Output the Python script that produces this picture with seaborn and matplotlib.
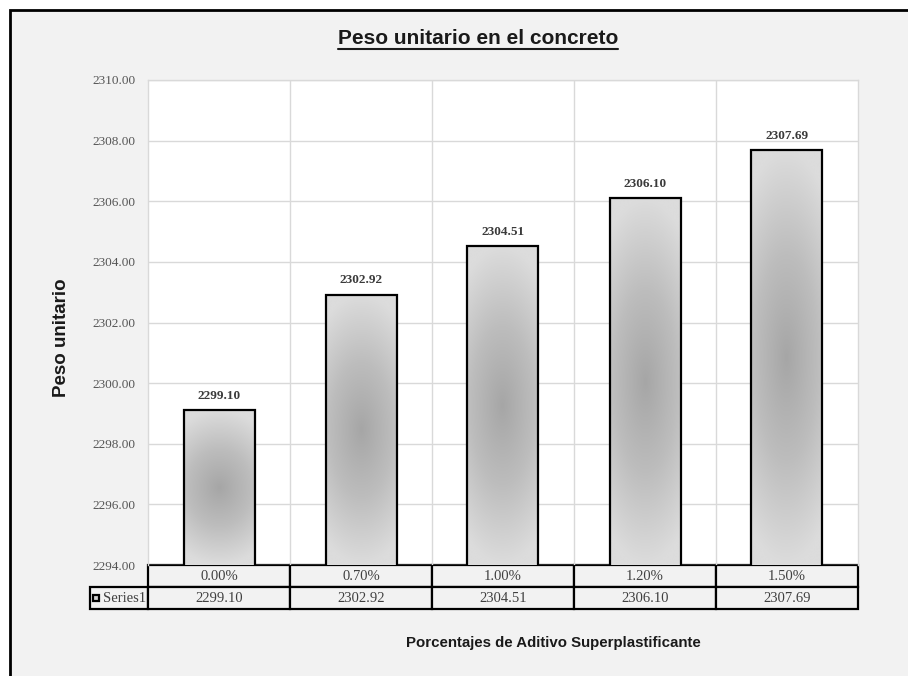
import numpy as np
import pandas as pd
import seaborn as sns
import matplotlib
matplotlib.use("Agg")
import matplotlib.pyplot as plt
from matplotlib.patches import Rectangle
from matplotlib.table import Table
from matplotlib.colors import LinearSegmentedColormap
from matplotlib.lines import Line2D

# ---- data ----
categories = ["0.00%", "0.70%", "1.00%", "1.20%", "1.50%"]
values = [2299.10, 2302.92, 2304.51, 2306.10, 2307.69]
yticks = [2294, 2296, 2298, 2300, 2302, 2304, 2306, 2308, 2310]
series_name = "Series1"
title = "Peso unitario en el concreto"
ylabel = "Peso unitario"
xlabel = "Porcentajes de Aditivo Superplastificante"

sns.set_theme(style="white")
sans = ["Liberation Sans", "DejaVu Sans"]
serif = ["Liberation Serif", "DejaVu Serif"]
plt.rcParams["font.family"] = sans

W, H = 908, 676
fig = plt.figure(figsize=(W / 100, H / 100), dpi=100)
fig.patch.set_facecolor("white")

# outer chart frame
fig.patches.append(Rectangle((10 / W, -0.05), 1.0, 1 - 10 / H + 0.05,
                             transform=fig.transFigure, facecolor="#f2f2f2",
                             edgecolor="black", lw=2, zorder=-10))

ax = fig.add_axes([148 / W, 1 - 565 / H, 710 / W, 485 / H])
ax.set_facecolor("white")

df = pd.DataFrame({"pct": categories, "val": values})
sns.barplot(data=df, x="pct", y="val", width=0.5, color="#d0d0d0",
            edgecolor="black", linewidth=1.6, ax=ax, zorder=3)

ax.set_ylim(yticks[0], yticks[-1])
ax.set_xlim(-0.5, len(categories) - 0.5)
ylo, yhi = ax.get_ylim()
xlo, xhi = ax.get_xlim()

# gradient fill for the bars
cmap = LinearSegmentedColormap.from_list("g", ["#a6a6a6", "#bdbdbd", "#dcdcdc"])
ny, nx = 200, 80
u = np.linspace(-1, 1, nx)
v = np.linspace(-1, 1, ny)
U, V = np.meshgrid(u, v)
D = np.clip(np.sqrt(0.3 * U ** 2 + V ** 2), 0, 1)
for p in ax.patches:
    x0 = p.get_x()
    w = p.get_width()
    top = p.get_y() + p.get_height()
    im = ax.imshow(D, cmap=cmap, vmin=0, vmax=1, extent=[x0, x0 + w, ylo, top],
                   aspect="auto", origin="lower", zorder=2.5, interpolation="bilinear")
    im.set_clip_path(p)
    p.set_facecolor("none")
ax.set_ylim(ylo, yhi)
ax.set_xlim(xlo, xhi)

# value labels
ax.bar_label(ax.containers[0], fmt="%.2f", padding=6, fontsize=9.5,
             fontweight="bold", family=serif, color="#3a3a3a")

# grid
ax.set_yticks(yticks)
ax.set_yticklabels([f"{t:.2f}" for t in yticks])
ax.set_xticks([])
ax.set_xticks([i + 0.5 for i in range(len(categories) - 1)], minor=True)
ax.set_axisbelow(True)
ax.grid(axis="y", which="major", color="#d9d9d9", lw=1)
ax.grid(axis="x", which="minor", color="#d9d9d9", lw=1)
ax.tick_params(axis="y", length=0, pad=9, labelsize=9.5, labelcolor="#555555")
ax.tick_params(axis="x", which="both", length=0)
for lab in ax.get_yticklabels():
    lab.set_fontfamily(serif)
for s in ["left", "top", "right"]:
    ax.spines[s].set_color("#d9d9d9")
    ax.spines[s].set_linewidth(1)
ax.spines["bottom"].set_visible(False)
ax.set_xlabel("")
ax.set_ylabel("")

# data table
lw_px, cw_px, rh_px = 58, 142, 22
tab = Table(ax, bbox=[-lw_px / 710, -2 * rh_px / 485, 1 + lw_px / 710, 2 * rh_px / 485])
for j, c in enumerate(categories):
    tab.add_cell(0, j + 1, width=cw_px, height=rh_px, text=c, loc="center",
                 facecolor="#f2f2f2", edgecolor="black")
cell = tab.add_cell(1, 0, width=lw_px, height=rh_px, text=series_name, loc="right",
                    facecolor="#f2f2f2", edgecolor="black")
cell.PAD = 0.03
for j, val in enumerate(values):
    tab.add_cell(1, j + 1, width=cw_px, height=rh_px, text=f"{val:.2f}", loc="center",
                 facecolor="#f2f2f2", edgecolor="black")
tab.auto_set_font_size(False)
tab.set_fontsize(10.5)
for key, c in tab.get_celld().items():
    c.set_linewidth(1.6)
    c.get_text().set_fontfamily(serif)
    c.get_text().set_color("#404040")
tab.set_clip_on(False)
ax.add_table(tab)

# legend key in table
ax.plot([-52 / 710], [-33 / 485], marker="s", ms=5, mfc="#d0d0d0", mec="black",
        mew=1.6, transform=ax.transAxes, clip_on=False, zorder=10)

# titles
t = fig.text(478 / W, 1 - 38 / H, title, ha="center", va="center", fontsize=15,
             fontweight="bold", family=sans, color="#1a1a1a")
fig.text(62 / W, 1 - 338 / H, ylabel, rotation=90, ha="center", va="center",
         fontsize=13.5, fontweight="bold", family=sans, color="#1a1a1a")
fig.text(553 / W, 1 - 643 / H, xlabel, ha="center", va="center", fontsize=10.8,
         fontweight="bold", family=sans, color="#1a1a1a")

# underline title
fig.canvas.draw()
bb = t.get_window_extent(fig.canvas.get_renderer())
yline = (bb.y0 - 1) / H
fig.add_artist(Line2D([bb.x0 / W, bb.x1 / W], [yline, yline],
                      transform=fig.transFigure, color="#1a1a1a", lw=1.5))

fig.savefig("out.png", dpi=100, facecolor=fig.get_facecolor())
